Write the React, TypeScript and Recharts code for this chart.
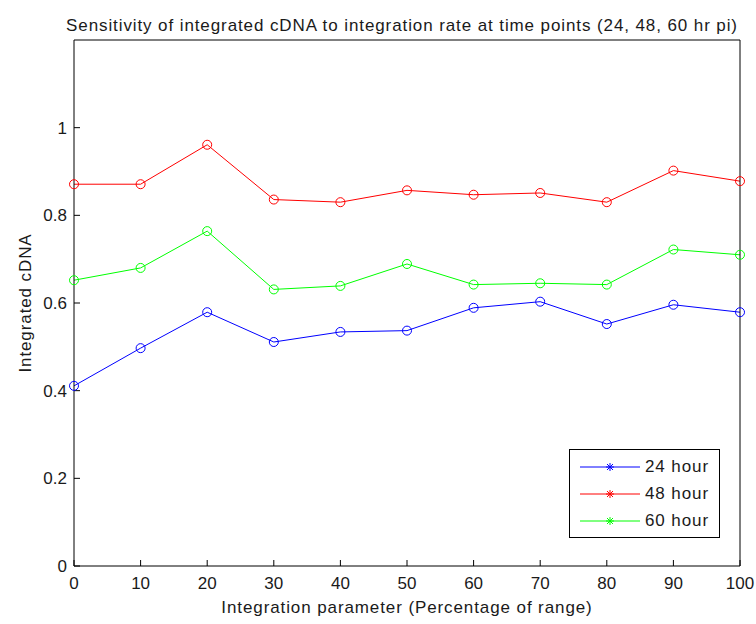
import React from 'react';
import { LineChart, Line, XAxis, YAxis } from 'recharts';

// integration parameter (% of range)
const params = [0, 10, 20, 30, 40, 50, 60, 70, 80, 90, 100];
const hour24 = [0.411, 0.497, 0.579, 0.511, 0.534, 0.537, 0.589, 0.603, 0.552, 0.596, 0.579];
const hour48 = [0.871, 0.871, 0.961, 0.836, 0.830, 0.857, 0.847, 0.851, 0.830, 0.902, 0.878];
const hour60 = [0.652, 0.680, 0.764, 0.631, 0.639, 0.689, 0.642, 0.645, 0.642, 0.722, 0.710];
const yTicks = [0, 0.2, 0.4, 0.6, 0.8, 1];

const series = [
  { key: 'h24', name: '24 hour', color: '#0000ff', values: hour24 },
  { key: 'h48', name: '48 hour', color: '#ff0000', values: hour48 },
  { key: 'h60', name: '60 hour', color: '#00ff00', values: hour60 },
];

const data = params.map((p, i) => ({
  p,
  h24: hour24[i],
  h48: hour48[i],
  h60: hour60[i],
}));

const FONT = '"Liberation Sans", Arial, sans-serif';
const textStyle = { fontFamily: FONT, fontSize: 17, fill: '#1a1a1a', letterSpacing: 0.9 };
const tickStyle = { fontFamily: FONT, fontSize: 17, fill: '#1a1a1a' };

const Star = ({ cx, cy, color }: { cx: number; cy: number; color: string }) => (
  <g stroke={color} strokeWidth={1}>
    <line x1={cx - 4} y1={cy} x2={cx + 4} y2={cy} />
    <line x1={cx} y1={cy - 4} x2={cx} y2={cy + 4} />
    <line x1={cx - 3} y1={cy - 3} x2={cx + 3} y2={cy + 3} />
    <line x1={cx - 3} y1={cy + 3} x2={cx + 3} y2={cy - 3} />
  </g>
);

// boxed legend in the lower right corner of the axes
const LegendBox = () => (
  <div
    style={{
      position: 'absolute',
      left: 569,
      top: 449,
      width: 149,
      height: 84,
      border: '1px solid #000',
      background: '#fff',
      fontFamily: FONT,
      fontSize: 17,
      letterSpacing: 0.9,
      color: '#1a1a1a',
      paddingTop: 3,
      boxSizing: 'content-box',
    }}
  >
    {series.map(s => (
      <div key={s.key} style={{ display: 'flex', alignItems: 'center', height: 27 }}>
        <svg width={75} height={16} style={{ display: 'block' }}>
          <line x1={10} y1={8} x2={70} y2={8} stroke={s.color} strokeWidth={1} />
          <Star cx={40} cy={8} color={s.color} />
        </svg>
        <span>{s.name}</span>
      </div>
    ))}
  </div>
);

const Ring = (color: string) => (props: any) => {
  const { cx, cy, index } = props;
  if (cx == null || cy == null) return <g key={index} />;
  return <circle key={index} cx={cx} cy={cy} r={4.5} fill="none" stroke={color} strokeWidth={1} />;
};

export default function App() {
  return (
    <div style={{ position: 'fixed', left: 0, top: 0, width: 756, height: 624, background: '#fff' }}>
      <LineChart
        width={756}
        height={624}
        data={data}
        margin={{ top: 39, right: 15, left: 8, bottom: 0 }}
        style={{ overflow: 'visible' }}
      >
        <text x={402} y={31} textAnchor="middle" style={textStyle}>
          Sensitivity of integrated cDNA to integration rate at time points (24, 48, 60 hr pi)
        </text>
        <XAxis
          xAxisId="bottom"
          dataKey="p"
          type="number"
          domain={[0, 100]}
          ticks={params}
          height={58}
          stroke="#000"
          tickSize={-6}
          tickMargin={17}
          tick={tickStyle}
          label={{
            value: 'Integration parameter (Percentage of range)',
            position: 'insideBottom',
            offset: 11,
            style: textStyle,
          }}
        />
        <XAxis
          xAxisId="top"
          dataKey="p"
          type="number"
          orientation="top"
          domain={[0, 100]}
          ticks={params}
          height={1}
          stroke="#000"
          tickSize={-6}
          tick={false}
        />
        <YAxis
          yAxisId="left"
          type="number"
          domain={[0, 1.2]}
          ticks={yTicks}
          width={66}
          stroke="#000"
          tickSize={-6}
          tickMargin={13}
          tick={tickStyle}
          tickFormatter={(v: number) => String(v)}
          label={{
            value: 'Integrated cDNA',
            angle: -90,
            position: 'insideLeft',
            offset: 17,
            style: { ...textStyle, textAnchor: 'middle' },
          }}
        />
        <YAxis
          yAxisId="right"
          type="number"
          orientation="right"
          domain={[0, 1.2]}
          ticks={yTicks}
          width={1}
          stroke="#000"
          tickSize={-6}
          tick={false}
        />
        {series.map(s => (
          <Line
            key={s.key}
            xAxisId="bottom"
            yAxisId="left"
            dataKey={s.key}
            name={s.name}
            stroke={s.color}
            strokeWidth={1}
            dot={Ring(s.color)}
            activeDot={false}
            isAnimationActive={false}
          />
        ))}
      </LineChart>
      <LegendBox />
    </div>
  );
}
